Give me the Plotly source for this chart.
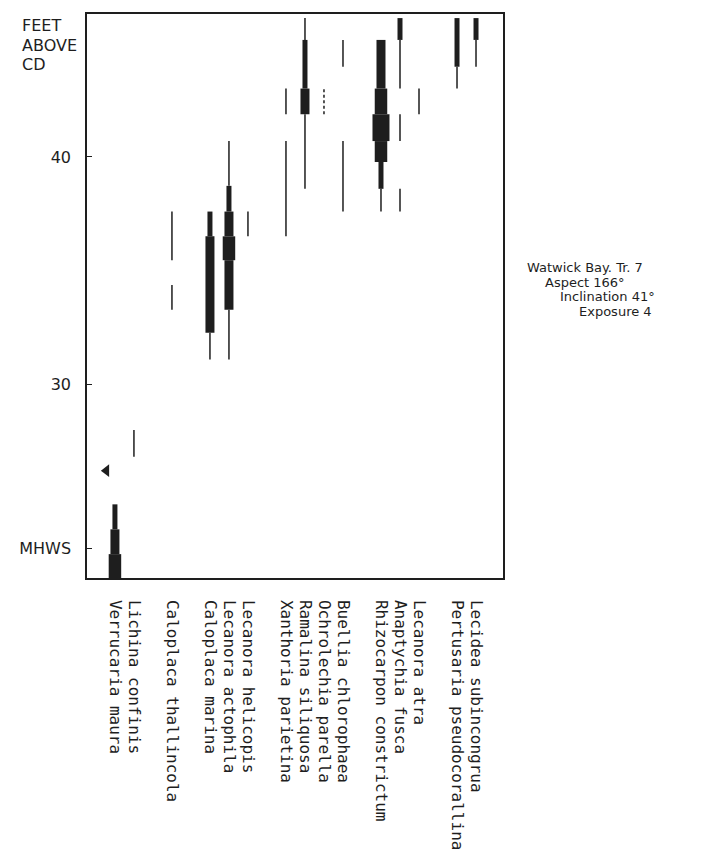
import plotly.graph_objects as go

# Taxa in column order along the transect chart (left to right)
taxa = [
    "Verrucaria maura", "Lichina confinis", "Caloplaca thallincola",
    "Caloplaca marina", "Lecanora actophila", "Lecanora helicopis",
    "Xanthoria parietina", "Ramalina siliquosa", "Ochrolechia parella",
    "Buellia chlorophaea", "Rhizocarpon constrictum", "Anaptychia fusca",
    "Lecanora atra", "Pertusaria pseudocorallina", "Lecidea subincongrua",
]
# Column slot of each taxon (gaps separate the groups)
taxon_slot = [0, 1, 3, 5, 6, 7, 9, 10, 11, 12, 14, 15, 16, 18, 19]

# Vertical ranges (feet above chart datum) with abundance class 1-5
seg_taxon = (
    ["Verrucaria maura"] * 3
    + ["Lichina confinis"]
    + ["Caloplaca thallincola"] * 2
    + ["Caloplaca marina"] * 3
    + ["Lecanora actophila"] * 6
    + ["Lecanora helicopis"]
    + ["Xanthoria parietina"] * 2
    + ["Ramalina siliquosa"] * 4
    + ["Ochrolechia parella"]
    + ["Buellia chlorophaea"] * 2
    + ["Rhizocarpon constrictum"] * 6
    + ["Anaptychia fusca"] * 4
    + ["Lecanora atra"]
    + ["Pertusaria pseudocorallina"] * 2
    + ["Lecidea subincongrua"] * 2
)
seg_bottom = [
    21.48, 22.53, 23.62,
    26.81,
    33.28, 35.46,
    31.09, 32.27, 36.51,
    31.09, 33.28, 35.46, 36.51, 37.60, 38.73,
    36.51,
    36.51, 41.88,
    38.60, 41.88, 43.01, 45.15,
    41.88,
    37.60, 43.97,
    37.60, 38.60, 39.78, 40.70, 41.88, 43.01,
    37.60, 40.70, 43.01, 45.15,
    41.88,
    43.01, 43.97,
    43.97, 45.15,
]
seg_top = [
    22.53, 23.62, 24.72,
    27.99,
    34.37, 37.60,
    32.27, 36.51, 37.60,
    33.28, 35.46, 36.51, 37.60, 38.73, 40.70,
    37.60,
    40.70, 43.01,
    41.88, 43.01, 45.15, 46.11,
    43.01,
    40.70, 45.15,
    38.60, 39.78, 40.70, 41.88, 43.01, 45.15,
    38.60, 41.88, 45.15, 46.11,
    43.01,
    43.97, 46.11,
    45.15, 46.11,
]
seg_cover = [
    4, 3, 2,
    1,
    1, 1,
    1, 3, 2,
    1, 3, 4, 3, 2, 1,
    1,
    1, 1,
    1, 3, 2, 1,
    1,
    1, 1,
    1, 2, 4, 5, 4, 3,
    1, 1, 1, 2,
    1,
    1, 2,
    1, 2,
]
# Taxa recorded only as scattered occurrences (broken line)
sparse_taxa = ["Ochrolechia parella"]

# Unlabelled single record near the Lichina zone
odd_record_slot = [-0.45]
odd_record_height = [26.2]

# Y-axis reference levels
level_values = [22.79, 30, 40]
level_labels = ["MHWS", "30", "40"]

site_lines = ["Watwick Bay. Tr. 7", "Aspect 166°", "Inclination 41°", "Exposure 4"]

INK = "#1e1e1e"
cover_width = {1: 1.5, 2: 5, 3: 9, 4: 12.5, 5: 17}

fig = go.Figure()
slot_of = dict(zip(taxa, taxon_slot))
for name, lo, hi, cov in zip(seg_taxon, seg_bottom, seg_top, seg_cover):
    xs = slot_of[name]
    fig.add_trace(go.Scatter(
        x=[xs, xs], y=[lo, hi], mode="lines",
        line=dict(color=INK, width=cover_width[cov],
                  dash="3px,2.5px" if name in sparse_taxa else "solid"),
        showlegend=False, hoverinfo="skip",
    ))

fig.add_trace(go.Scatter(
    x=odd_record_slot, y=odd_record_height, mode="markers",
    marker=dict(symbol="triangle-left", size=11, color=INK),
    showlegend=False, hoverinfo="skip",
))

# Plot area spans 87..503 px horizontally, 14..582 px vertically
L, R, T, B = 87, 198, 14, 280
W, H = 701, 862
pw, ph = W - L - R, H - T - B

def px_x(p):
    return (p - L) / pw

def px_y(p):
    return (H - B - p) / ph

annotations = []
for txt, yy in zip(["FEET", "ABOVE", "CD"], [26, 46, 65]):
    annotations.append(dict(
        text=txt, xref="paper", yref="paper", x=px_x(20), y=px_y(yy),
        xanchor="left", yanchor="middle", showarrow=False,
        font=dict(family="DejaVu Sans", size=16, color=INK),
    ))
for txt, xx, yy in zip(site_lines, [525, 543, 558, 577], [269, 284, 299, 314]):
    annotations.append(dict(
        text=txt, xref="paper", yref="paper", x=px_x(xx), y=px_y(yy),
        xanchor="left", yanchor="middle", showarrow=False,
        font=dict(family="DejaVu Sans", size=13, color=INK),
    ))

fig.update_layout(
    width=W, height=H, autosize=False,
    margin=dict(l=L, r=R, t=T, b=B, pad=0),
    paper_bgcolor="white", plot_bgcolor="white",
    annotations=annotations,
    xaxis=dict(
        range=[-1.47, 20.42], showgrid=False, zeroline=False,
        showline=True, mirror=True, linecolor=INK, linewidth=1.5,
        tickmode="array", tickvals=taxon_slot, ticktext=taxa,
        tickangle=90, ticks="", ticklabelstandoff=17,
        tickfont=dict(family="DejaVu Sans Mono", size=16, color=INK),
    ),
    yaxis=dict(
        range=[21.48, 46.29], showgrid=False, zeroline=False,
        showline=True, mirror=True, linecolor=INK, linewidth=1.5,
        tickmode="array", tickvals=level_values, ticktext=level_labels,
        ticks="inside", ticklen=5, tickcolor=INK, ticklabelstandoff=11,
        tickfont=dict(family="DejaVu Sans", size=16, color=INK),
    ),
)

fig.write_html("out.html")
